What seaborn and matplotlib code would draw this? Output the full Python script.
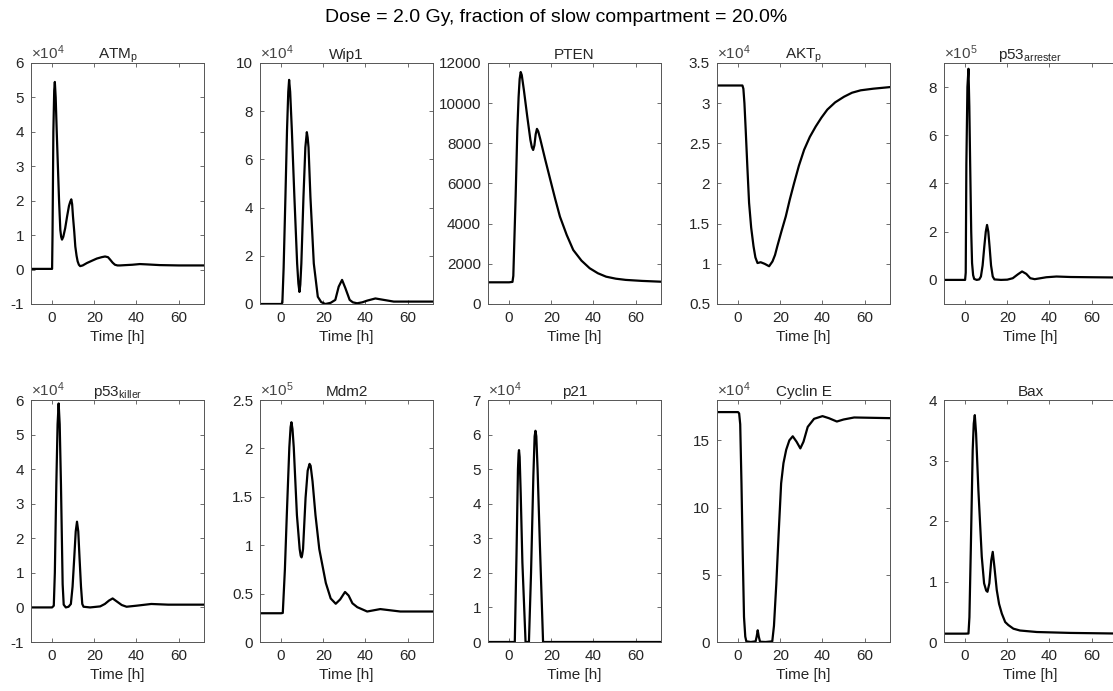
import numpy as np
import pandas as pd
import matplotlib
matplotlib.use("Agg")
import matplotlib.pyplot as plt
import seaborn as sns
from matplotlib.ticker import FuncFormatter

# ---------------- data (values in displayed units) ----------------
# ATM_p (x1e4)
atm_t = [-10, 0, 0.2, 0.6, 1.0, 1.3, 1.7, 2.2, 2.7, 3.3, 3.9, 4.3, 4.7, 5.3, 6.2, 7.1, 8.0, 8.6, 9.1, 9.5, 9.9, 10.5, 11, 11.6, 12.1, 12.7, 13.3, 14.5, 16.5, 19, 21.2, 23.5, 25.1, 26.5, 27.5, 28.7, 29.8, 31, 32.2, 35, 38, 41.6, 45, 51, 60, 72]
atm_y = [0.02, 0.02, 1.0, 4.0, 5.2, 5.45, 5.0, 4.0, 3.08, 2.0, 1.15, 0.95, 0.87, 0.95, 1.2, 1.54, 1.85, 1.97, 2.04, 1.9, 1.54, 1.1, 0.67, 0.4, 0.24, 0.14, 0.1, 0.12, 0.19, 0.26, 0.32, 0.36, 0.38, 0.36, 0.29, 0.2, 0.14, 0.12, 0.12, 0.13, 0.14, 0.16, 0.15, 0.13, 0.12, 0.12]
# Wip1 (x1e4)
wip_t = [-10, 0, 0.6, 1.2, 2.05, 2.8, 3.4, 3.8, 4.3, 5.1, 6.3, 7.6, 8.2, 8.7, 9.1, 9.6, 10.6, 11.5, 12.2, 12.6, 13.0, 13.9, 15.5, 17.4, 19, 21, 23.5, 25.7, 27.3, 28.9, 30.5, 32.5, 34, 36, 38.5, 40.8, 44.7, 48.7, 53.4, 60, 72]
wip_y = [0, 0, 0.05, 1.5, 4.44, 7.2, 8.8, 9.3, 8.8, 7.2, 4.44, 1.68, 0.85, 0.5, 0.8, 1.68, 4.44, 6.5, 7.13, 6.9, 6.5, 4.44, 1.68, 0.3, 0.08, 0.0, 0.05, 0.17, 0.72, 1.0, 0.65, 0.17, 0.07, 0.03, 0.07, 0.14, 0.23, 0.17, 0.1, 0.1, 0.1]
# PTEN
pten_t = [-10, 0, 1.6, 2.0, 2.5, 3.1, 3.9, 4.5, 5.0, 5.5, 6.0, 7.0, 8.6, 10.1, 10.8, 11.4, 12.0, 12.6, 13.2, 13.8, 14.8, 17.1, 19.5, 21.8, 24.1, 27.3, 30.4, 34.3, 38.2, 42.1, 46, 50.6, 55.3, 63, 72]
pten_y = [1080, 1080, 1100, 1400, 3200, 5350, 8670, 10300, 11200, 11550, 11400, 10660, 9340, 8170, 7800, 7670, 7900, 8450, 8720, 8600, 8200, 7200, 6200, 5250, 4350, 3440, 2690, 2160, 1780, 1530, 1360, 1260, 1200, 1150, 1110]
# AKT_p (x1e4)
akt_t = [-10, 0, 2.05, 2.5, 3.0, 3.6, 4.4, 5.2, 6.2, 7.3, 8.2, 9.2, 10.7, 12.6, 14.7, 16.3, 17.5, 18.6, 20.5, 22.6, 24.5, 26.5, 28.8, 31.3, 34, 36.8, 39.5, 42.3, 46, 50.2, 54, 58.1, 64, 72]
akt_y = [3.22, 3.22, 3.22, 3.18, 3.0, 2.67, 2.2, 1.76, 1.45, 1.22, 1.08, 1.01, 1.02, 1.0, 0.97, 1.03, 1.11, 1.22, 1.4, 1.59, 1.8, 2.0, 2.22, 2.42, 2.58, 2.71, 2.82, 2.92, 3.01, 3.08, 3.13, 3.16, 3.18, 3.2]
# p53_arrester (x1e5)
p53a_t = [-10, 0, 0.3, 0.6, 1.1, 1.6, 2.0, 2.4, 2.9, 3.3, 3.8, 4.3, 5.5, 6.7, 7.5, 8.3, 9.1, 9.8, 10.4, 11.0, 11.6, 12.3, 13.1, 13.9, 17, 20, 22.6, 25, 27, 29, 30.9, 33, 38.5, 43.3, 50, 60, 72]
p53a_y = [0, 0, 0.3, 4.8, 8.0, 8.76, 7.2, 4.8, 2.0, 0.7, 0.2, 0.04, 0.0, 0.02, 0.14, 0.6, 1.38, 2.0, 2.28, 2.0, 1.38, 0.6, 0.14, 0.02, 0.0, 0.01, 0.07, 0.23, 0.35, 0.25, 0.07, 0.03, 0.11, 0.14, 0.12, 0.11, 0.1]
# p53_killer (x1e4)
p53k_t = [-10, 0, 0.8, 1.3, 2.0, 2.6, 3.1, 3.6, 4.2, 5.0, 5.5, 6.5, 7.8, 8.9, 9.7, 10.5, 11.2, 11.8, 12.4, 13.0, 13.7, 14.3, 14.9, 18, 22.8, 25, 27, 28.7, 30.5, 33, 35.3, 40, 47, 55, 72]
p53k_y = [0, 0, 0.05, 1.0, 3.56, 5.3, 5.9, 5.3, 3.56, 0.67, 0.08, 0.0, 0.02, 0.1, 0.6, 1.44, 2.2, 2.48, 2.2, 1.44, 0.6, 0.1, 0.02, 0.0, 0.03, 0.1, 0.2, 0.26, 0.18, 0.07, 0.02, 0.05, 0.1, 0.08, 0.08]
# Mdm2 (x1e5)
mdm_t = [-10, 0, 0.8, 1.8, 2.7, 3.9, 4.5, 4.9, 5.4, 6.0, 7.5, 8.8, 9.3, 9.7, 10.0, 10.4, 11.6, 12.6, 13.5, 14.0, 14.9, 16.3, 18.1, 21.2, 23.5, 25.9, 28, 30.3, 32, 33.8, 36.1, 40.8, 47, 56.5, 72]
mdm_y = [0.297, 0.297, 0.3, 0.75, 1.31, 2.01, 2.22, 2.27, 2.2, 2.01, 1.31, 0.96, 0.89, 0.874, 0.9, 0.96, 1.49, 1.77, 1.84, 1.82, 1.66, 1.31, 0.96, 0.61, 0.45, 0.395, 0.44, 0.517, 0.48, 0.40, 0.36, 0.315, 0.34, 0.315, 0.315]
# p21 (x1e4)
p21_t = [-10, 0, 2.7, 3.5, 4.2, 4.5, 4.7, 5.0, 5.5, 6.3, 7.8, 9.4, 10.4, 11.5, 12.1, 12.5, 12.9, 13.5, 14.6, 16.1, 20, 72]
p21_y = [0, 0, 0, 2.5, 5.0, 5.45, 5.55, 5.35, 4.3, 2.3, 0, 0, 2.0, 4.8, 5.95, 6.11, 5.95, 5.0, 2.8, 0, 0, 0]
# Cyclin E (x1e4)
cyc_t = [-10, 0, 0.5, 1.0, 1.6, 2.2, 2.8, 3.4, 3.9, 6, 8.3, 8.8, 9.3, 9.8, 10.4, 13, 16.2, 17.0, 18.1, 19.2, 20.4, 21.5, 22.8, 24.3, 25.9, 27.7, 29.5, 31, 33, 36, 40, 43, 46.8, 50, 55, 72]
cyc_y = [17.1, 17.1, 17.0, 16.2, 11.8, 6.5, 1.86, 0.4, 0.05, 0.0, 0.05, 0.4, 0.87, 0.4, 0.02, 0.0, 0.05, 1.2, 4.3, 8.0, 11.8, 13.3, 14.3, 15.0, 15.3, 14.9, 14.4, 14.9, 16.0, 16.6, 16.8, 16.65, 16.4, 16.55, 16.7, 16.65]
# Bax
bax_t = [-10, 0, 1.6, 2.05, 2.7, 3.6, 4.1, 4.6, 5.2, 6.3, 7.9, 9.0, 10.0, 10.6, 11.5, 12.4, 13.1, 13.9, 15, 16.1, 17.4, 19, 20.5, 22.9, 26, 34, 50, 72]
bax_y = [0.138, 0.138, 0.14, 0.41, 1.52, 3.17, 3.61, 3.75, 3.45, 2.51, 1.41, 0.97, 0.85, 0.83, 0.97, 1.35, 1.49, 1.24, 0.86, 0.63, 0.47, 0.33, 0.28, 0.22, 0.19, 0.165, 0.15, 0.14]

titles = ["ATM$_{p}$", "Wip1", "PTEN", "AKT$_{p}$", "p53$_{arrester}$",
          "p53$_{killer}$", "Mdm2", "p21", "Cyclin E", "Bax"]
exponents = [4, 4, None, 4, 5, 4, 5, 4, 4, None]
ylims = [(-1, 6), (0, 10), (0, 12000), (0.5, 3.5), (-1, 9),
         (-1, 6), (0, 2.5), (0, 7), (0, 18), (0, 4)]
yticks = [list(range(-1, 7)), [0, 2, 4, 6, 8, 10], [0, 2000, 4000, 6000, 8000, 10000, 12000],
          [0.5, 1, 1.5, 2, 2.5, 3, 3.5], [0, 2, 4, 6, 8],
          list(range(-1, 7)), [0, 0.5, 1, 1.5, 2, 2.5], list(range(0, 8)), [0, 5, 10, 15], [0, 1, 2, 3, 4]]
series = [(atm_t, atm_y), (wip_t, wip_y), (pten_t, pten_y), (akt_t, akt_y), (p53a_t, p53a_y),
          (p53k_t, p53k_y), (mdm_t, mdm_y), (p21_t, p21_y), (cyc_t, cyc_y), (bax_t, bax_y)]
xticks = [0, 20, 40, 60]

# ---------------- style ----------------
sns.set_style("ticks")
plt.rcParams["font.family"] = ["Liberation Sans", "DejaVu Sans"]
plt.rcParams["mathtext.fontset"] = "custom"
plt.rcParams["mathtext.rm"] = "Liberation Sans"
plt.rcParams["mathtext.it"] = "Liberation Sans"
plt.rcParams["mathtext.default"] = "regular"
plt.rcParams["axes.unicode_minus"] = False

W, H = 1113, 691
fig = plt.figure(figsize=(W / 100, H / 100), dpi=100)
fig.patch.set_facecolor("white")

lefts = [31, 260, 488, 717, 944]
rows = [(63, 304), (400, 642)]
width = 173
txtc = "#262626"
spc = "#555555"

for i in range(10):
    r, c = divmod(i, 5)
    top, bot = rows[r]
    ax = fig.add_axes([lefts[c] / W, 1 - bot / H, width / W, (bot - top) / H])
    t, y = series[i]
    df = pd.DataFrame({"Time": t, "Value": y})
    sns.lineplot(data=df, x="Time", y="Value", ax=ax, color="black",
                 linewidth=1.6, estimator=None, sort=False)
    ax.set_xlim(-10, 72)
    ax.set_ylim(*ylims[i])
    ax.set_xticks(xticks)
    ax.set_yticks(yticks[i])
    ax.yaxis.set_major_formatter(FuncFormatter(lambda v, p: f"{v:g}"))
    ax.tick_params(direction="in", top=True, right=True, length=3, width=0.6,
                   colors=spc, labelcolor=txtc, labelsize=11, pad=5)
    for s in ax.spines.values():
        s.set_visible(True)
        s.set_color(spc)
        s.set_linewidth(0.7)
    ax.set_xlabel("Time [h]", fontsize=11, color=txtc, labelpad=3.5)
    ax.set_ylabel("")
    ax.set_title(titles[i], fontsize=11, color=txtc, pad=3)
    if exponents[i] is not None:
        ax.text(0.0, 1.003, r"$\times10^{%d}$" % exponents[i], transform=ax.transAxes,
                ha="left", va="bottom", fontsize=11, color="#444444")
    ax.set_facecolor("white")

fig.text(0.5, 1 - 17 / H, "Dose = 2.0 Gy, fraction of slow compartment = 20.0%",
         ha="center", va="center", fontsize=14, color="black")

fig.savefig("out.png", dpi=100, facecolor="white")
